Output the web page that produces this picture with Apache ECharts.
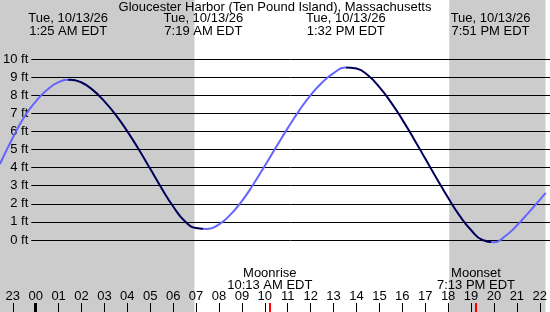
<!DOCTYPE html>
<html>
<head>
<meta charset="utf-8">
<script src="https://cdn.jsdelivr.net/npm/echarts@6/dist/echarts.min.js"></script>
<style>
  html, body { margin: 0; padding: 0; background: #fff; }
  #main { width: 550px; height: 312px; }
</style>
</head>
<body>
<div id="main"></div>
<script>
// tide curve (hours from local midnight, feet)
var tideHours = [-1.56, -1, -0.5, 0, 0.5, 1, 1.5, 2, 2.5, 3, 3.5, 4, 4.5, 5, 5.5, 6, 6.5, 7, 7.5, 8, 8.5, 9, 9.5, 10, 10.5, 11, 11.5, 12, 12.5, 13, 13.5, 14, 14.5, 15, 15.5, 16, 16.5, 17, 17.5, 18, 18.5, 19, 19.5, 20, 20.5, 21, 21.5, 22, 22.26];
var tideFeet = [4.2, 5.65, 6.8, 7.65, 8.3, 8.72, 8.86, 8.70, 8.28, 7.66, 6.9, 6.0, 5.0, 3.93, 2.85, 1.85, 1.05, 0.66, 0.61, 0.86, 1.4, 2.15, 3.08, 4.1, 5.15, 6.18, 7.15, 8.0, 8.7, 9.22, 9.53, 9.47, 9.1, 8.45, 7.62, 6.65, 5.6, 4.5, 3.4, 2.33, 1.35, 0.55, 0.0, -0.12, 0.22, 0.8, 1.5, 2.22, 2.6];

// high / low tides
var extremeHours = [1.417, 7.317, 13.533, 19.85];
var extremeKinds = ['high', 'low', 'high', 'low'];
var extremeDates = ['Tue, 10/13/26', 'Tue, 10/13/26', 'Tue, 10/13/26', 'Tue, 10/13/26'];
var extremeTimes = ['1:25 AM EDT', '7:19 AM EDT', '1:32 PM EDT', '7:51 PM EDT'];

// moon
var moonHours = [10.217, 19.217];
var moonNames = ['Moonrise', 'Moonset'];
var moonTimes = ['10:13 AM EDT', '7:13 PM EDT'];

// daylight
var sunriseHour = 6.93;
var sunsetHour = 18.05;

var hourTicks = [-1, 0, 1, 2, 3, 4, 5, 6, 7, 8, 9, 10, 11, 12, 13, 14, 15, 16, 17, 18, 19, 20, 21, 22];
var feetTicks = [0, 1, 2, 3, 4, 5, 6, 7, 8, 9, 10];

var title = 'Gloucester Harbor (Ten Pound Island), Massachusetts';

// layout
var W = 550, H = 312;
var hour0X = 36, pxPerHour = 23.1;
var zeroY = 240, pxPerFt = 18.1;
var labelLeft = 29;

var xMin = -hour0X / pxPerHour;
var xMax = (W - hour0X) / pxPerHour;
var yMin = -(H - zeroY) / pxPerFt;
var yMax = zeroY / pxPerFt;

var font = 'Liberation Sans';
var lightBlue = '#6464ff';
var darkBlue = '#00005a';

var chart = echarts.init(document.getElementById('main'), null, { renderer: 'canvas' });

var tideData = tideHours.map(function (h, i) { return [h, tideFeet[i]]; });

// rising toward a high = light, falling toward a low = dark
var pieces = [];
var prev = xMin - 1;
extremeHours.forEach(function (h, i) {
  pieces.push({ gte: prev, lt: h, color: extremeKinds[i] === 'high' ? lightBlue : darkBlue });
  prev = h;
});
pieces.push({ gte: prev, lte: xMax + 1, color: extremeKinds[extremeKinds.length - 1] === 'low' ? lightBlue : darkBlue });

function pad(h) {
  var v = (h + 24) % 24;
  return (v < 10 ? '0' : '') + v;
}
function findIdx(arr, v) {
  for (var i = 0; i < arr.length; i++) {
    if (Math.abs(arr[i] - v) < 1e-6) return i;
  }
  return -1;
}

// an x axis on grid 0 that only draws ticks / labels
function xAxisOn(opts) {
  return Object.assign({
    type: 'value', gridIndex: 0, position: 'bottom', min: xMin, max: xMax, z: 5,
    axisLine: { show: false },
    splitLine: { show: false },
    axisTick: { show: false },
    axisLabel: { show: false }
  }, opts);
}

var option = {
  animation: false,
  textStyle: { fontFamily: font },
  title: {
    text: title,
    left: 'center',
    top: 1,
    padding: 0,
    z: 6,
    textStyle: { fontFamily: font, fontSize: 13, fontWeight: 'normal', color: '#000' }
  },
  grid: [
    { left: 0, right: 0, top: 0, bottom: 0 },
    { left: labelLeft, right: 0, top: zeroY - 10 * pxPerFt, height: 10 * pxPerFt }
  ],
  visualMap: {
    show: false,
    type: 'piecewise',
    dimension: 0,
    seriesIndex: 1,
    pieces: pieces
  },
  xAxis: [
    xAxisOn({
      // hour labels
      axisLabel: {
        inside: true, margin: 9, customValues: hourTicks,
        fontFamily: font, fontSize: 13, color: '#000',
        formatter: function (v) { return pad(Math.round(v)); }
      }
    }),
    xAxisOn({
      // hour ticks
      axisTick: { show: true, inside: true, length: 9, customValues: hourTicks, lineStyle: { color: '#000', width: 1 } }
    }),
    xAxisOn({
      // midnight
      axisTick: { show: true, inside: true, length: 9, customValues: [0], lineStyle: { color: '#000', width: 3 } }
    }),
    xAxisOn({
      // moon ticks
      axisTick: { show: true, inside: true, length: 9, customValues: moonHours, lineStyle: { color: '#ff0000', width: 2 } }
    }),
    xAxisOn({
      // moon labels
      axisLabel: {
        inside: true, margin: 21, customValues: moonHours,
        fontFamily: font, fontSize: 13, lineHeight: 12, color: '#000',
        formatter: function (v) {
          var i = findIdx(moonHours, v);
          return i < 0 ? '' : moonNames[i] + '\n' + moonTimes[i];
        }
      }
    }),
    xAxisOn({
      // tide times on top
      position: 'top',
      axisLabel: {
        inside: true, margin: 12, customValues: extremeHours,
        fontFamily: font, fontSize: 13, lineHeight: 13, color: '#000',
        formatter: function (v) {
          var i = findIdx(extremeHours, v);
          return i < 0 ? '' : extremeDates[i] + '\n' + extremeTimes[i];
        }
      }
    }),
    { type: 'value', gridIndex: 1, show: false, min: xMin, max: xMax }
  ],
  yAxis: [
    { type: 'value', gridIndex: 0, show: false, min: yMin, max: yMax },
    {
      type: 'value', gridIndex: 1, min: feetTicks[0], max: feetTicks[feetTicks.length - 1], interval: 1, z: 5,
      axisLine: { show: false },
      axisTick: { show: false },
      splitLine: { show: true, lineStyle: { color: '#000', width: 1 } },
      axisLabel: { margin: 3, fontFamily: font, fontSize: 13, color: '#000', formatter: '{value} ft' }
    }
  ],
  series: [
    {
      // night shading
      type: 'line', xAxisIndex: 0, yAxisIndex: 0, z: 0, zlevel: 0,
      data: tideData, symbol: 'none', silent: true,
      lineStyle: { opacity: 0 },
      markArea: {
        silent: true,
        z: 0,
        itemStyle: { color: '#cccccc' },
        data: [
          [{ xAxis: xMin }, { xAxis: sunriseHour }],
          [{ xAxis: sunsetHour }, { xAxis: xMax }]
        ]
      }
    },
    {
      name: 'tide',
      type: 'line', xAxisIndex: 0, yAxisIndex: 0, z: 10,
      data: tideData, symbol: 'none', smooth: 0.5,
      lineStyle: { width: 2 }
    }
  ]
};

chart.setOption(option);
</script>
</body>
</html>
